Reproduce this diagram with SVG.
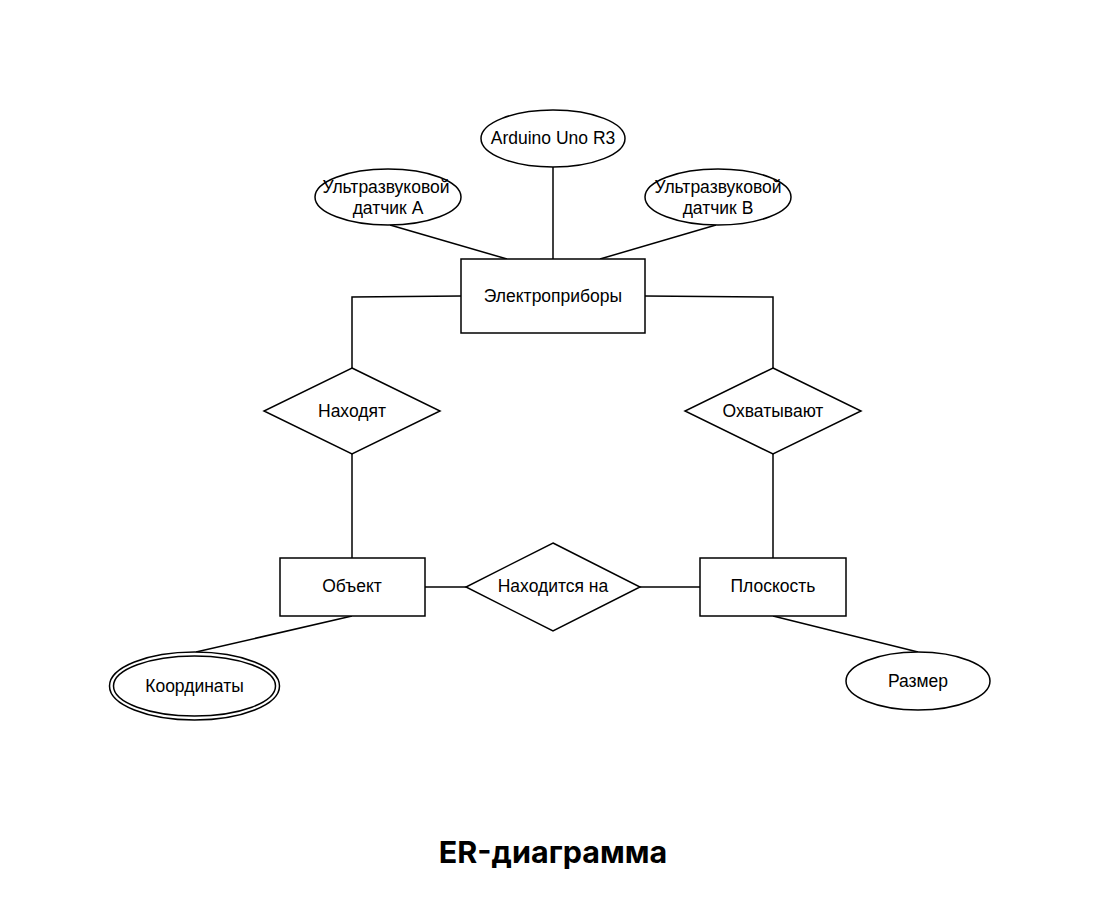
<svg xmlns="http://www.w3.org/2000/svg" width="1110" height="900" viewBox="0 0 1110 900">
<style>
.s{fill:#fff;stroke:#000;stroke-width:1.5}
.c{fill:none;stroke:#000;stroke-width:1.5}
.t{font-family:"Liberation Sans",Arial,sans-serif;font-size:17.5px;fill:#000;text-anchor:middle;dominant-baseline:central}
.h{font-family:Inter,"Noto Sans",sans-serif;font-size:30.5px;font-weight:700;fill:#000;text-anchor:middle}
</style>
<rect width="1110" height="900" fill="#fff"/>
<g id="connectors">
<line class="c" x1="390" y1="225" x2="507" y2="259"/>
<line class="c" x1="553" y1="167" x2="553" y2="259"/>
<line class="c" x1="716" y1="225" x2="600" y2="259"/>
<polyline class="c" points="461,296 352,297 352,368"/>
<polyline class="c" points="645,296 773,297 773,368"/>
<line class="c" x1="352" y1="454" x2="352" y2="558"/>
<line class="c" x1="773" y1="454" x2="773" y2="558"/>
<line class="c" x1="425" y1="587" x2="466" y2="587"/>
<line class="c" x1="640" y1="587" x2="700" y2="587"/>
<line class="c" x1="352" y1="616" x2="196" y2="652"/>
<line class="c" x1="773" y1="616" x2="918" y2="652"/>
</g>
<g id="arduino"><ellipse class="s" cx="553" cy="138.5" rx="72" ry="28.5"/><text class="t" x="553" y="138">Arduino Uno R3</text></g>
<g id="sensorA"><ellipse class="s" cx="388" cy="197" rx="73" ry="28"/><text class="t" x="386" y="187">Ультразвуковой</text><text class="t" x="388" y="208">датчик А</text></g>
<g id="sensorB"><ellipse class="s" cx="718" cy="197" rx="73" ry="28"/><text class="t" x="718" y="187">Ультразвуковой</text><text class="t" x="718" y="208">датчик В</text></g>
<g id="devices"><rect class="s" x="461" y="259" width="184" height="74"/><text class="t" x="553" y="296">Электроприборы</text></g>
<g id="find"><polygon class="s" points="352,368 440,411 352,454 264,411"/><text class="t" x="352" y="411">Находят</text></g>
<g id="cover"><polygon class="s" points="773,368 861,411 773,454 685,411"/><text class="t" x="773" y="411">Охватывают</text></g>
<g id="object"><rect class="s" x="280" y="558" width="145" height="58"/><text class="t" x="352" y="586">Объект</text></g>
<g id="locatedOn"><polygon class="s" points="553,543 640,587 553,631 466,587"/><text class="t" x="553" y="586">Находится на</text></g>
<g id="plane"><rect class="s" x="700" y="558" width="146" height="58"/><text class="t" x="773" y="586">Плоскость</text></g>
<g id="coords"><ellipse class="s" cx="194.5" cy="686" rx="85" ry="34"/><ellipse class="s" cx="194.5" cy="686" rx="81" ry="30"/><text class="t" x="194.5" y="686">Координаты</text></g>
<g id="size"><ellipse class="s" cx="918" cy="681" rx="72" ry="29"/><text class="t" x="918" y="681">Размер</text></g>
<text class="h" x="553" y="863">ER-диаграмма</text>
</svg>
